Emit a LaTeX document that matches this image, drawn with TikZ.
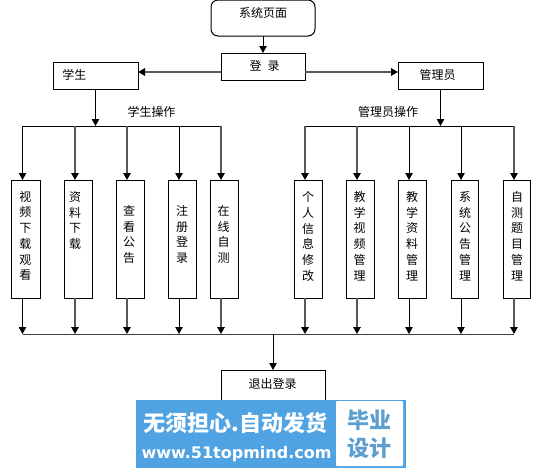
\documentclass[tikz,border=0pt]{standalone}
\usepackage{fontspec}
\setmainfont{Noto Sans CJK SC}
\newfontfamily\cjk{Noto Sans CJK SC}
\newfontfamily\latinb{DejaVu Sans}[BoldFont={DejaVu Sans Bold}]
\usetikzlibrary{arrows.meta}
\definecolor{banner}{HTML}{4FA3E3}
\definecolor{bannerink}{HTML}{5C9FD0}
\tikzset{
  box/.style={draw=black,line width=1pt,fill=white,inner sep=0pt,outer sep=0pt},
  txt/.style={inner sep=0pt,font=\fontsize{12}{15.75}\selectfont,text=black},
  vtxt/.style={txt,align=center},
  conn/.style={draw=black,line width=1pt,-{Triangle[length=7pt,width=7.5pt,color=black,fill=black]}},
  connb/.style={conn,draw=black!65,line width=1.4pt},
  busline/.style={draw=black,line width=1pt},
  busgray/.style={draw=black!75,line width=1pt},
}
\begin{document}
\begin{tikzpicture}[x=1pt,y=-1pt]
\useasboundingbox (0,0) rectangle (542,469);
\clip (0,0) rectangle (542,469);
% top boxes
\node[box,rounded corners=7pt,minimum width=104pt,minimum height=36pt] (sys) at (263,18) {};
\node[txt] (systxt) at (263,13) {系统页面};
\node[box,minimum width=84pt,minimum height=27pt] (login) at (263,66.5) {};
\node[txt] (logintxt) at (264.5,66) {登\,\,\,录};
\node[box,minimum width=85pt,minimum height=27pt] (stu) at (95.5,75.5) {};
\node[txt] (stutxt) at (74.5,75) {学生};
\node[box,minimum width=85pt,minimum height=27pt] (adm) at (440.5,75.5) {};
\node[txt] (admtxt) at (437.5,75) {管理员};
\node[txt] (stuop) at (151.5,112) {学生操作};
\node[txt] (admop) at (388,112) {管理员操作};
\node[box,minimum width=104pt,minimum height=40pt] (out) at (273,390) {};
\node[txt] (outtxt) at (272.5,384) {退出登录};
% buses
\coordinate (sbusL) at (22.5,126);
\coordinate (sbusR) at (221,126);
\coordinate (abusL) at (305,126);
\coordinate (abusR) at (514,126);
\coordinate (botL) at (22.5,334);
\coordinate (botR) at (514,334);
\coordinate (botM) at (273,334);
\draw[busline] (sbusL) -- (sbusR);
\draw[busline] (abusL) -- (abusR);
\draw[busgray] (botL) -- (botR);
\draw[conn] (sys.south) -- (login.north);
\draw[connb] ([yshift=-5.5pt]login.west) -- ([yshift=3.5pt]stu.east);
\draw[connb] ([yshift=-5.5pt]login.east) -- ([yshift=3.5pt]adm.west);
\draw[conn] (stu.south) -- (stu.south |- sbusL);
\draw[conn] (adm.south) -- (adm.south |- abusL);
\draw[conn] (botM) -- (out.north);
% column boxes
\foreach \n/\xl/\xr/\ax/\tx/\ty/\st/\lab in {
  s1/11/40/22.5/25.5/236/conn/{视\\频\\下\\载\\观\\看},
  s2/64/92/75/75/220.5/connb/{资\\料\\下\\载},
  s3/116/144/127/129/234.5/connb/{查\\看\\公\\告},
  s4/168/196/179/182/234.5/conn/{注\\册\\登\\录},
  s5/210/238/221/223.5/234.5/connb/{在\\线\\自\\测},
  a1/294/322/305/308/236.5/connb/{个\\人\\信\\息\\修\\改},
  a2/346/374/357/359.5/236/connb/{教\\学\\视\\频\\管\\理},
  a3/398/426/409/412/236/conn/{教\\学\\资\\料\\管\\理},
  a4/451/478/461/465/236/conn/{系\\统\\公\\告\\管\\理},
  a5/503/530/514/517/236/connb/{自\\测\\题\\目\\管\\理}}{
  \pgfmathsetmacro\cx{(\xl+\xr)/2}
  \pgfmathsetmacro\bwid{\xr-\xl}
  \node[box,minimum width=\bwid pt,minimum height=118pt] (\n) at (\cx,239) {};
  \node[vtxt] (\n t) at (\tx,\ty) {\lab};
  \coordinate (\n top) at (\ax,126);
  \coordinate (\n bot) at (\ax,334);
  \draw[\st] (\n top) -- (\n top |- \n.north);
  \draw[\st] (\n bot |- \n.south) -- (\n bot);
}
% banner
\node[fill=banner,inner sep=0pt,minimum width=270pt,minimum height=68pt] (ban) at (271,434) {};
\node[fill=white,rounded corners=1pt,inner sep=0pt,minimum width=67pt,minimum height=65pt] (bw) at (369.5,433.5) {};
\node[inner sep=0pt,text=white,font=\fontsize{22}{24}\selectfont\bfseries] (b1) at (235.5,423) {无须担心.自动发货};
\node[inner sep=0pt,text=white,font=\fontsize{16}{18}\latinb\bfseries] (b2) at (236.5,454) {www.51topmind.com};
\node[inner sep=0pt,text=bannerink,align=center,font=\fontsize{22}{28}\selectfont\bfseries] (b3) at (369.5,434) {毕业\\设计};
\end{tikzpicture}
\end{document}
